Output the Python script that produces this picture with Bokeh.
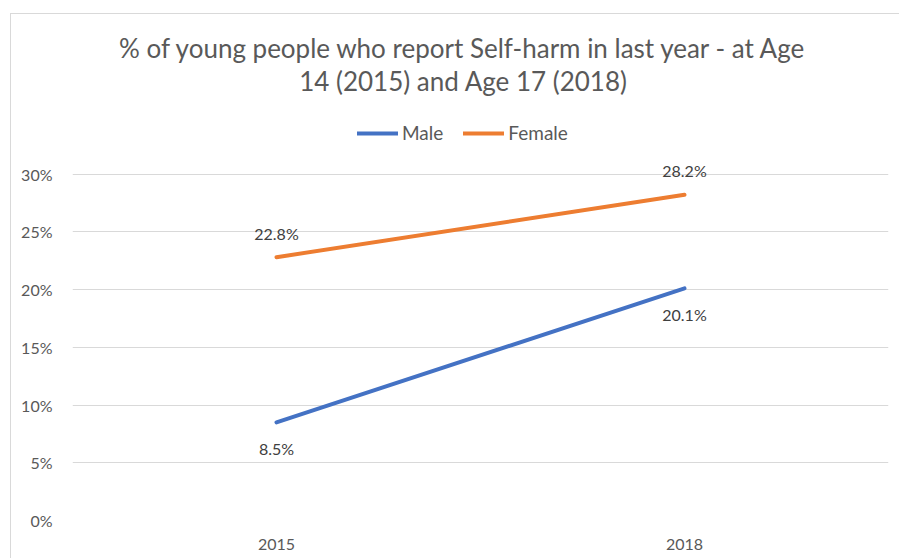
from bokeh.plotting import figure
from bokeh.models import (ColumnDataSource, Range1d, NumeralTickFormatter, FixedTicker,
                          Label, Legend, LegendItem, LabelSet)
from bokeh.core.properties import value
from bokeh.embed import file_html
from bokeh.resources import INLINE

years = ["2015", "2018"]
male = [0.085, 0.201]
female = [0.228, 0.282]
male_labels = ["8.5%", "20.1%"]
female_labels = ["22.8%", "28.2%"]
y_ticks = [0, 0.05, 0.10, 0.15, 0.20, 0.25, 0.30]
title_line1 = "% of young people who report Self-harm in last year - at Age"
title_line2 = "14 (2015) and Age 17 (2018)"

FONT = "Lato"
BLUE = "#4472C4"
ORANGE = "#ED7D31"

W, H = 889, 545
BL, BR, BB, BT = 61, 12, 39, 0
frame_h = H - BB - BT
px_per_unit = 346.5 / 0.30          # 30% gridline sits 346.5 px above the 0% line
y_top = frame_h / px_per_unit

p = figure(x_range=years, y_range=Range1d(0, y_top), width=W, height=H,
           output_backend="svg", toolbar_location=None,
           min_border_left=BL, min_border_right=BR, min_border_bottom=BB, min_border_top=BT)
p.margin = (13, 0, 0, 10)
p.styles = {"border-top": "1px solid #D9D9D9", "border-left": "1px solid #D9D9D9"}
p.outline_line_color = None
p.background_fill_color = "white"
p.border_fill_color = "white"

# axes
p.yaxis.ticker = FixedTicker(ticks=y_ticks)
p.yaxis.formatter = NumeralTickFormatter(format="0%")
for ax in (p.xaxis[0], p.yaxis[0]):
    ax.axis_line_color = None
    ax.major_tick_line_color = None
    ax.minor_tick_line_color = None
    ax.major_label_text_font = FONT
    ax.major_label_text_font_size = "16px"
    ax.major_label_text_color = "#595959"
p.yaxis.major_label_standoff = 14
p.xaxis.major_label_standoff = 12
p.xgrid.grid_line_color = None
p.ygrid.grid_line_color = "#D9D9D9"
p.ygrid.grid_line_width = 1
p.ygrid.ticker = FixedTicker(ticks=y_ticks)

src_m = ColumnDataSource(dict(x=years, y=male, lab=male_labels))
src_f = ColumnDataSource(dict(x=years, y=female, lab=female_labels))
rm = p.line("x", "y", source=src_m, line_color=BLUE, line_width=4, line_cap="round")
rf = p.line("x", "y", source=src_f, line_color=ORANGE, line_width=4, line_cap="round")

p.add_layout(LabelSet(x="x", y="y", text="lab", source=src_m, y_offset=-26,
                      text_align="center", text_baseline="middle", text_font=value(FONT),
                      text_font_size="16px", text_color="#404040"))
p.add_layout(LabelSet(x="x", y="y", text="lab", source=src_f, y_offset=24,
                      text_align="center", text_baseline="middle", text_font=value(FONT),
                      text_font_size="16px", text_color="#404040"))

legend = Legend(items=[LegendItem(label="Male", renderers=[rm]),
                       LegendItem(label="Female", renderers=[rf])],
                orientation="horizontal", location=(285, 376),
                glyph_width=41, glyph_height=16, label_standoff=4, spacing=20,
                label_text_font=FONT, label_text_font_size="19px", label_text_color="#595959",
                background_fill_alpha=0, border_line_color=None, padding=0, margin=0)
p.add_layout(legend, "center")

for txt, yy in ((title_line1, 473), (title_line2, 440)):
    p.add_layout(Label(x=391, y=yy, x_units="screen", y_units="screen", text=txt,
                       text_align="center", text_baseline="middle", text_font=FONT,
                       text_font_size="26px", text_color="#595959"))

open("out.html", "w").write(file_html(p, INLINE))
